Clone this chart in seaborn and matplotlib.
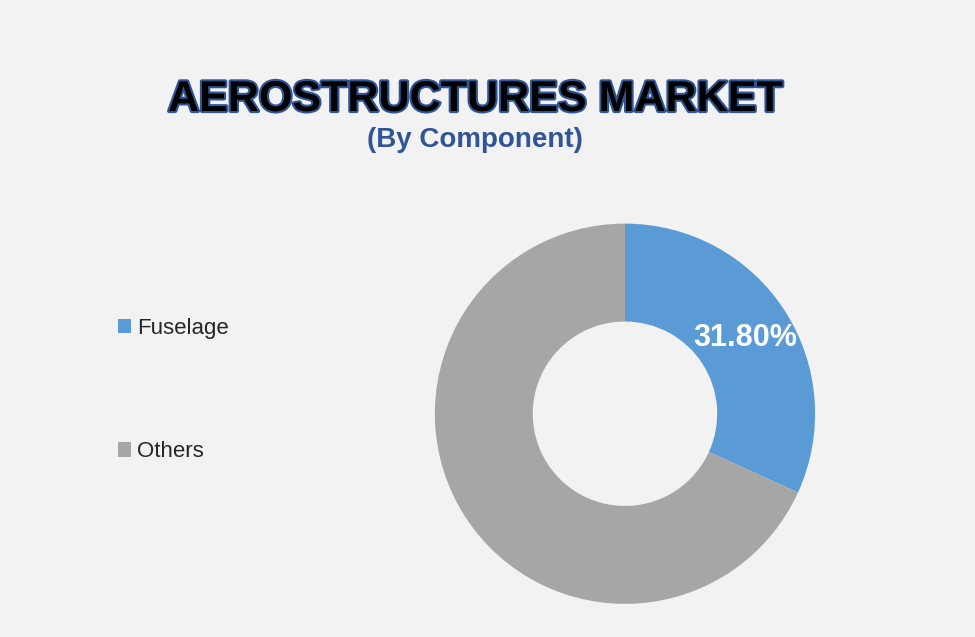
import matplotlib
matplotlib.use("Agg")
import matplotlib.pyplot as plt
import matplotlib.patheffects as pe
import seaborn as sns

categories = ["Fuselage", "Others"]
values = [31.8, 68.2]
colors = ["#5b9bd5", "#a6a6a6"]

sns.set_style("white")
plt.rcParams['font.family'] = ['Liberation Sans', 'DejaVu Sans']

fig = plt.figure(figsize=(9.75, 6.37), dpi=100, facecolor="#f2f2f2")
ax = fig.add_axes([0.446, 0.052, 0.39, 0.597])
ax.set_facecolor("#f2f2f2")
wedges, _ = ax.pie(values, colors=colors, startangle=90, counterclock=False,
                   wedgeprops=dict(width=0.515, linewidth=0))
ax.set_xlim(-1, 1)
ax.set_ylim(-1, 1)
ax.set_aspect("equal")
ax.text(0.63, 0.4, f"{values[0]:.2f}%", color="white", fontsize=22, fontweight="bold",
        ha="center", va="center")

fig.legend(wedges, categories, loc="upper left", bbox_to_anchor=(0.1, 0.532),
           frameon=False, fontsize=16, handlelength=0.6, handleheight=0.6,
           handletextpad=0.3, labelspacing=4.6)

fig.text(0.487, 0.843, "AEROSTRUCTURES MARKET", ha="center", va="center",
         fontsize=31, fontweight="bold", color="black",
         path_effects=[pe.withStroke(linewidth=3, foreground="#2f5597")])
fig.text(0.487, 0.78, "(By Component)", ha="center", va="center",
         fontsize=20, fontweight="bold", color="#2f5597")

fig.savefig("out.png", dpi=100, facecolor=fig.get_facecolor())
